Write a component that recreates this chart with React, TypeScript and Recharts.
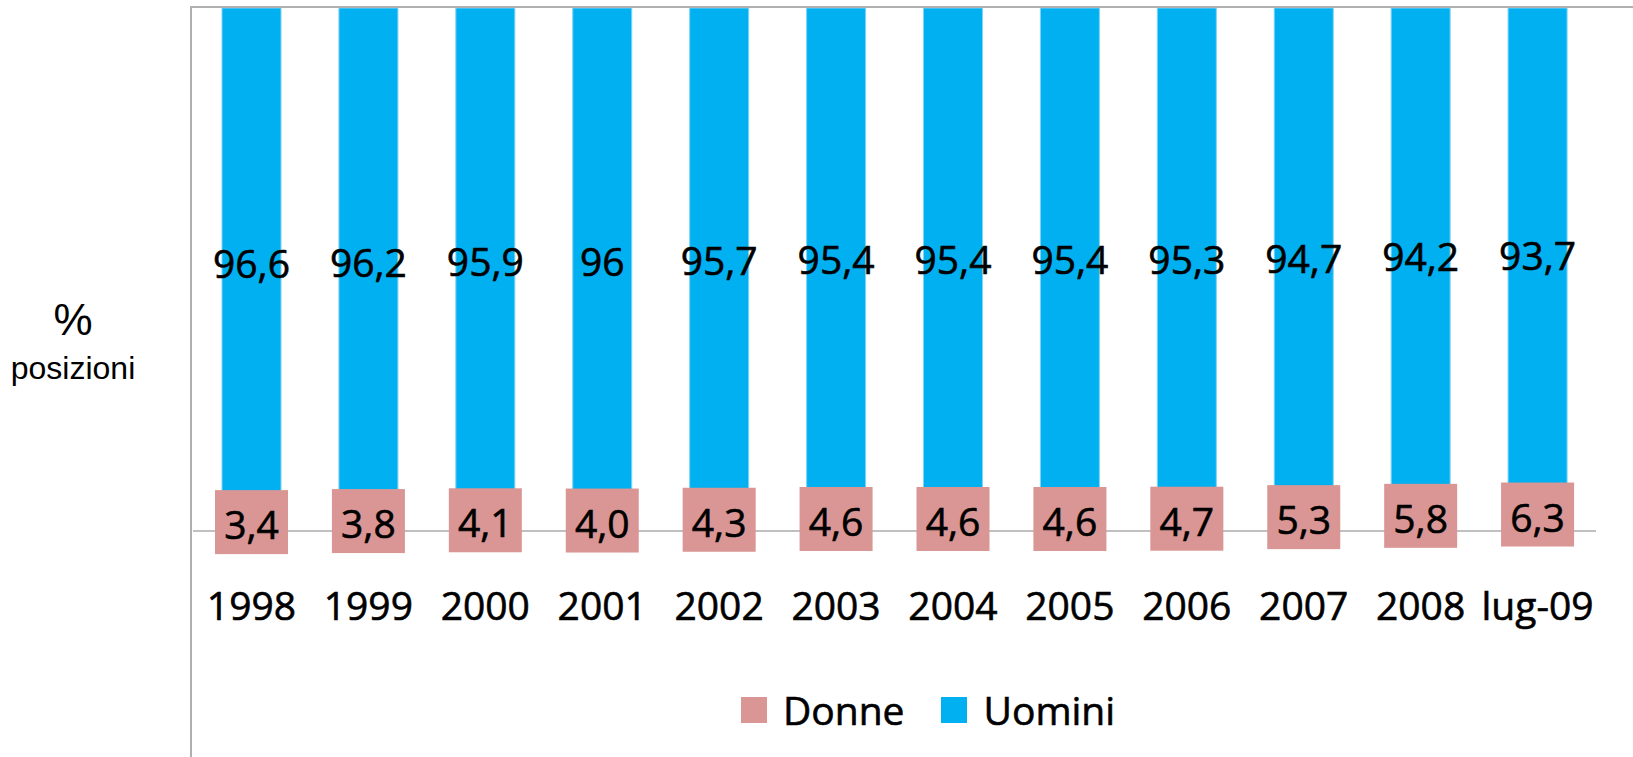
import React from 'react';
import {BarChart, Bar, XAxis, YAxis, Legend, LabelList} from 'recharts';

const anni = ['1998', '1999', '2000', '2001', '2002', '2003', '2004', '2005', '2006', '2007', '2008', 'lug-09'];
const donne = [3.4, 3.8, 4.1, 4.0, 4.3, 4.6, 4.6, 4.6, 4.7, 5.3, 5.8, 6.3];
const uomini = [96.6, 96.2, 95.9, 96, 95.7, 95.4, 95.4, 95.4, 95.3, 94.7, 94.2, 93.7];

const data = anni.map((anno, i) => ({anno, donne: donne[i], uomini: uomini[i]}));

const PINK = '#D99694';
const BLUE = '#00B0F0';
const FONT = '"Open Sans", sans-serif';

const comma = (v: number, dec?: number) => (dec === undefined ? String(v) : v.toFixed(dec)).replace('.', ',');

// blue label, centred on the Uomini segment
const UominiLabel = (props: any) => {
    const {x, y, width, height, value} = props;
    return (
        <text x={x + width / 2} y={y + height / 2} dy={17} textAnchor="middle"
              fontFamily={FONT} fontSize={39} fill="#000" stroke="#000" strokeWidth={0.6}>
            {comma(value)}
        </text>
    );
};

// pink boxed label for Donne; drawn from the Uomini bar so it sits on top of it
const DonneLabel = (props: any) => {
    const {x, y, width, height, index} = props;
    const pxPerUnit = height / uomini[index];
    const segH = donne[index] * pxPerUnit;
    const cx = x + width / 2;
    const cy = y + height + segH / 2;
    return (
        <g>
            <rect x={cx - 36.5} y={cy - 32} width={73} height={64} fill={PINK}/>
            <text x={cx} y={cy} dy={17} textAnchor="middle" fontFamily={FONT} fontSize={39}
                  fill="#000" stroke="#000" strokeWidth={0.6}>
                {comma(donne[index], 1)}
            </text>
        </g>
    );
};

const YearTick = (props: any) => {
    const {x, y, payload} = props;
    return (
        <text x={x} y={y} dy={89} textAnchor="middle" fontFamily={FONT} fontSize={39}
              fill="#000" stroke="#000" strokeWidth={0.6}>
            {payload.value}
        </text>
    );
};

const AxisTitle = () => (
    <g fontFamily='"Liberation Sans", Arial, sans-serif' fill="#000">
        <text x={73} y={335} textAnchor="middle" fontSize={44}>%</text>
        <text x={73} y={379} textAnchor="middle" fontSize={32}>posizioni</text>
    </g>
);

const LegendBox = () => (
    <div style={{width: 1633, height: 70, position: 'relative', fontFamily: FONT, fontSize: 39, color: '#000',
        WebkitTextStroke: '0.6px #000'}}>
        <div style={{display: 'flex', alignItems: 'center', height: 46, paddingLeft: 741}}>
            <span style={{width: 26, height: 26, background: PINK, display: 'inline-block'}}/>
            <span style={{marginLeft: 16, lineHeight: '46px'}}>Donne</span>
            <span style={{width: 26, height: 26, background: BLUE, display: 'inline-block', marginLeft: 36}}/>
            <span style={{marginLeft: 17, lineHeight: '46px'}}>Uomini</span>
        </div>
    </div>
);

export default function App() {
    return (
        <div style={{position: 'absolute', left: 0, top: 0, width: 1633, height: 757, background: '#fff', overflow: 'hidden'}}>
            <BarChart width={1633} height={757} data={data}
                      margin={{top: 8, right: 37, left: 0, bottom: 0}}>
                <XAxis dataKey="anno" height={156} tickLine={false} tickSize={0} tickMargin={0}
                       axisLine={{stroke: '#c0c0c0', strokeWidth: 2}} tick={<YearTick/>} interval={0}/>
                <YAxis width={193} domain={[0, 100]} tick={false} tickLine={false} axisLine={false}
                       label={{content: <AxisTitle/>}}/>
                <Legend verticalAlign="bottom" height={70} content={<LegendBox/>}
                        wrapperStyle={{left: 0, width: 1633}}/>
                <Bar dataKey="donne" stackId="a" fill={PINK} barSize={59} isAnimationActive={false}/>
                <Bar dataKey="uomini" stackId="a" fill={BLUE} stroke="#7fd3f5" strokeWidth={1}
                     barSize={59} isAnimationActive={false}>
                    <LabelList dataKey="uomini" content={<UominiLabel/>}/>
                    <LabelList dataKey="donne" content={<DonneLabel/>}/>
                </Bar>
            </BarChart>
            <div style={{position: 'absolute', left: 190, top: 6, right: 0, bottom: 0,
                borderLeft: '2px solid #b0b0b0', borderTop: '2px solid #b0b0b0', pointerEvents: 'none'}}/>
        </div>
    );
}
